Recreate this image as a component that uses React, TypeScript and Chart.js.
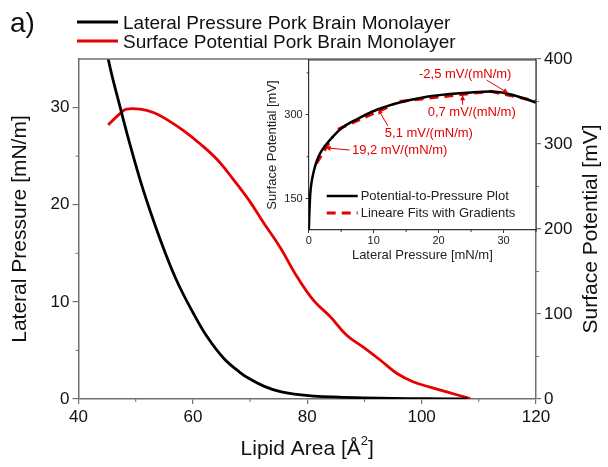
import React, { useEffect, useRef } from 'react';
import { Chart, registerables } from 'chart.js';

Chart.register(...registerables);

const FONT = "'Liberation Sans', Arial, Helvetica, sans-serif";
const RED = '#e60000';
const AXIS = '#707070';

// ---------- main chart data ----------
const pressureArea = [44.7, 45.2, 47.3, 49.0, 50.8, 52.5, 54.3, 56.0, 57.8, 60.2, 62.5, 65.3, 68.2, 70.0, 72.5, 75.3, 78.5, 81.1, 85.5, 90.0, 95.0, 101.0, 108.0];
const pressureValues = [37.5, 35.0, 30.0, 26.2, 22.5, 19.4, 16.4, 13.8, 11.4, 8.7, 6.4, 4.25, 2.75, 2.05, 1.3, 0.75, 0.45, 0.3, 0.19, 0.12, 0.07, 0.03, 0.0];

const potentialArea = [45.2, 47.3, 48.4, 50.8, 53.1, 55.4, 58.3, 61.3, 64.2, 67.0, 69.8, 72.3, 75.3, 78.2, 81.1, 84.0, 86.9, 89.8, 92.8, 95.7, 98.6, 101.5, 104.4, 108.5];
const potentialValues = [322.5, 336, 341, 341, 337, 329, 316, 300, 282, 259, 234, 208, 178, 144, 116, 97, 75, 61, 45.6, 30, 20, 14, 8.3, 0.5];

const xTicks = [40, 60, 80, 100, 120];
const xMinor = [50, 70, 90, 110];
const yTicks = [0, 10, 20, 30];
const yMinor = [5, 15, 25];
const y2Ticks = [0, 100, 200, 300, 400];
const y2Minor = [50, 150, 250, 350];

const legendLabels = ['Lateral Pressure Pork Brain Monolayer', 'Surface Potential Pork Brain Monolayer'];

// ---------- inset data ----------
const insetPressure = [0.02, 0.12, 0.25, 0.45, 0.8, 1.23, 1.8, 2.5, 3.8, 5.3, 7.4, 10.5, 14.0, 17.6, 21.7, 25.0, 28.0, 30.5, 33.0, 35.0];
const insetPotential = [95, 130, 160, 180, 200, 217, 232, 244, 262, 278, 292, 309, 322, 331, 337, 340, 341.5, 338, 330, 322];

const fit1 = [{ x: 1.2, y: 213 }, { x: 3.7, y: 261 }];
const fit2 = [{ x: 4.5, y: 274 }, { x: 13.0, y: 318 }];
const fit3 = [{ x: 14.0, y: 324 }, { x: 28.0, y: 342 }];
const fit4 = [{ x: 28.0, y: 342 }, { x: 35.0, y: 324.5 }];

const insetXTicks = [0, 10, 20, 30];
const insetXMinor = [5, 15, 25, 35];
const insetYTicks = [150, 300];
const insetYMinor = [225, 375];

// annotation: label, text centre (data), arrow start (data), arrow tip (data)
const gradientLabels = ['-2,5 mV/(mN/m)', '0,7 mV/(mN/m)', '5,1 mV/(mN/m)', '19,2 mV/(mN/m)'];
const labelPos = [[24.1, 373], [25.1, 304], [18.5, 266], [14.0, 236]];
const arrowFrom = [[27.4, 362], [23.7, 318], [12.2, 280], [6.3, 237]];
const arrowTo = [[30.7, 339], [23.7, 335], [10.7, 310], [2.6, 241]];

const insetLegend = ['Potential-to-Pressure Plot', 'Lineare Fits with Gradients'];

const pts = (xs: number[], ys: number[]) => xs.map((x, i) => ({ x, y: ys[i] }));

function minorTicks(ctx: CanvasRenderingContext2D, chart: any, axis: string, values: number[], len: number, color: string) {
  const s = chart.scales[axis];
  const a = chart.chartArea;
  ctx.save();
  ctx.strokeStyle = color;
  ctx.lineWidth = 1;
  ctx.beginPath();
  values.forEach((v) => {
    const p = s.getPixelForValue(v);
    if (s.axis === 'x') {
      ctx.moveTo(p, a.bottom);
      ctx.lineTo(p, a.bottom + len);
    } else if (s.position === 'left') {
      ctx.moveTo(a.left, p);
      ctx.lineTo(a.left - len, p);
    } else {
      ctx.moveTo(a.right, p);
      ctx.lineTo(a.right + len, p);
    }
  });
  ctx.stroke();
  ctx.restore();
}

const mainPlugin = {
  id: 'mainDecor',
  afterDraw(chart: any) {
    const ctx: CanvasRenderingContext2D = chart.ctx;
    const a = chart.chartArea;
    ctx.save();
    // top frame
    ctx.strokeStyle = AXIS;
    ctx.lineWidth = 1.5;
    ctx.beginPath();
    ctx.moveTo(a.left, a.top);
    ctx.lineTo(a.right, a.top);
    ctx.stroke();
    minorTicks(ctx, chart, 'x', xMinor, 3, AXIS);
    minorTicks(ctx, chart, 'y', yMinor, 3, AXIS);
    minorTicks(ctx, chart, 'y2', y2Minor, 3, AXIS);

    // panel label
    ctx.fillStyle = '#111';
    ctx.font = `28px ${FONT}`;
    ctx.textAlign = 'left';
    ctx.textBaseline = 'alphabetic';
    ctx.fillText('a)', 10, 32);

    // legend
    const colors = ['#000', RED];
    const ys = [22, 41];
    ctx.font = `19px ${FONT}`;
    legendLabels.forEach((t, i) => {
      ctx.strokeStyle = colors[i];
      ctx.lineWidth = 3;
      ctx.beginPath();
      ctx.moveTo(77, ys[i]);
      ctx.lineTo(118, ys[i]);
      ctx.stroke();
      ctx.fillStyle = '#111';
      ctx.fillText(t, 123, ys[i] + 6.7);
    });

    // axis titles
    ctx.font = `21px ${FONT}`;
    ctx.fillStyle = '#111';
    ctx.textAlign = 'center';
    ctx.textBaseline = 'middle';
    const cy = (a.top + a.bottom) / 2;
    ctx.save();
    ctx.translate(20, cy);
    ctx.rotate(-Math.PI / 2);
    ctx.fillText('Lateral Pressure [mN/m]', 0, 0);
    ctx.restore();
    ctx.save();
    ctx.translate(591, cy);
    ctx.rotate(-Math.PI / 2);
    ctx.fillText('Surface Potential [mV]', 0, 0);
    ctx.restore();

    // bottom title with superscript
    const main = 'Lipid Area [Å';
    const sup = '2';
    const end = ']';
    ctx.textBaseline = 'alphabetic';
    ctx.textAlign = 'left';
    ctx.font = `21px ${FONT}`;
    const w1 = ctx.measureText(main).width;
    const w3 = ctx.measureText(end).width;
    ctx.font = `13px ${FONT}`;
    const w2 = ctx.measureText(sup).width;
    const total = w1 + w2 + w3;
    const cx = (a.left + a.right) / 2;
    const x0 = cx - total / 2;
    const base = 455;
    ctx.font = `21px ${FONT}`;
    ctx.fillText(main, x0, base);
    ctx.font = `13px ${FONT}`;
    ctx.fillText(sup, x0 + w1, base - 10);
    ctx.font = `21px ${FONT}`;
    ctx.fillText(end, x0 + w1 + w2, base);
    ctx.restore();
  },
};

const insetPlugin = {
  id: 'insetDecor',
  beforeDraw(chart: any) {
    const ctx: CanvasRenderingContext2D = chart.ctx;
    const a = chart.chartArea;
    ctx.save();
    ctx.fillStyle = '#fff';
    ctx.fillRect(a.left, a.top, a.right - a.left, a.bottom - a.top);
    ctx.restore();
  },
  afterDraw(chart: any) {
    const ctx: CanvasRenderingContext2D = chart.ctx;
    const a = chart.chartArea;
    const sx = chart.scales.x;
    const sy = chart.scales.y;
    ctx.save();
    ctx.strokeStyle = '#333';
    ctx.lineWidth = 1.2;
    ctx.beginPath();
    ctx.moveTo(a.left, a.top);
    ctx.lineTo(a.right, a.top);
    ctx.lineTo(a.right, a.bottom);
    ctx.stroke();
    minorTicks(ctx, chart, 'x', insetXMinor, 2, '#333');
    minorTicks(ctx, chart, 'y', insetYMinor, 2, '#333');

    // titles
    ctx.fillStyle = '#222';
    ctx.font = `13px ${FONT}`;
    ctx.textAlign = 'center';
    ctx.textBaseline = 'middle';
    ctx.fillText('Lateral Pressure [mN/m]', (a.left + a.right) / 2, a.bottom + 25);
    ctx.save();
    ctx.translate(a.left - 36, (a.top + a.bottom) / 2);
    ctx.rotate(-Math.PI / 2);
    ctx.fillText('Surface Potential [mV]', 0, 0);
    ctx.restore();

    // legend
    ctx.textAlign = 'left';
    const ly = [a.bottom - 34, a.bottom - 17];
    ctx.strokeStyle = '#000';
    ctx.lineWidth = 2.5;
    ctx.beginPath();
    ctx.moveTo(a.left + 18, ly[0]);
    ctx.lineTo(a.left + 49, ly[0]);
    ctx.stroke();
    ctx.strokeStyle = RED;
    ctx.lineWidth = 3;
    ctx.setLineDash([9, 6]);
    ctx.beginPath();
    ctx.moveTo(a.left + 18, ly[1]);
    ctx.lineTo(a.left + 49, ly[1]);
    ctx.stroke();
    ctx.setLineDash([]);
    ctx.fillStyle = '#222';
    insetLegend.forEach((t, i) => ctx.fillText(t, a.left + 52, ly[i]));

    // gradient annotations
    ctx.fillStyle = RED;
    ctx.strokeStyle = RED;
    ctx.lineWidth = 1;
    ctx.textAlign = 'center';
    gradientLabels.forEach((t, i) => {
      ctx.fillText(t, sx.getPixelForValue(labelPos[i][0]), sy.getPixelForValue(labelPos[i][1]));
      const x1 = sx.getPixelForValue(arrowFrom[i][0]);
      const y1 = sy.getPixelForValue(arrowFrom[i][1]);
      const x2 = sx.getPixelForValue(arrowTo[i][0]);
      const y2 = sy.getPixelForValue(arrowTo[i][1]);
      ctx.beginPath();
      ctx.moveTo(x1, y1);
      ctx.lineTo(x2, y2);
      ctx.stroke();
      const ang = Math.atan2(y2 - y1, x2 - x1);
      const L = 5;
      const W = 2.5;
      ctx.beginPath();
      ctx.moveTo(x2, y2);
      ctx.lineTo(x2 - L * Math.cos(ang) + W * Math.sin(ang), y2 - L * Math.sin(ang) - W * Math.cos(ang));
      ctx.lineTo(x2 - L * Math.cos(ang) - W * Math.sin(ang), y2 - L * Math.sin(ang) + W * Math.cos(ang));
      ctx.closePath();
      ctx.fill();
    });
    ctx.restore();
  },
};

const setTicks = (values: number[]) => (scale: any) => {
  scale.ticks = values.map((v) => ({ value: v }));
};

export default function App() {
  const mainRef = useRef<HTMLCanvasElement>(null);
  const insetRef = useRef<HTMLCanvasElement>(null);

  useEffect(() => {
    document.body.style.margin = '0';
    Chart.defaults.font.family = FONT;
    const main = new Chart(mainRef.current as HTMLCanvasElement, {
      type: 'scatter',
      data: {
        datasets: [
          {
            label: legendLabels[0],
            data: pts(pressureArea, pressureValues),
            showLine: true,
            borderColor: '#000',
            borderWidth: 2.8,
            borderJoinStyle: 'round',
            pointRadius: 0,
            tension: 0.4,
            yAxisID: 'y',
          },
          {
            label: legendLabels[1],
            data: pts(potentialArea, potentialValues),
            showLine: true,
            borderColor: RED,
            borderWidth: 2.8,
            borderJoinStyle: 'round',
            pointRadius: 0,
            tension: 0.4,
            yAxisID: 'y2',
          },
        ],
      },
      options: {
        animation: false,
        responsive: false,
        devicePixelRatio: 1,
        layout: { padding: { left: 0, right: 0, top: 59, bottom: 0 } },
        plugins: { legend: { display: false }, tooltip: { enabled: false } },
        scales: {
          x: {
            type: 'linear',
            min: 40,
            max: 120,
            afterBuildTicks: setTicks(xTicks),
            afterFit: (s: any) => { s.height = 68; },
            ticks: { font: { size: 17 }, color: '#111', padding: 3, maxRotation: 0 },
            grid: { drawOnChartArea: false, drawTicks: true, tickLength: 5, color: AXIS, lineWidth: 1.2 },
            border: { color: AXIS, width: 1.5 },
          },
          y: {
            type: 'linear',
            position: 'left',
            min: 0,
            max: 35,
            afterBuildTicks: setTicks(yTicks),
            afterFit: (s: any) => { s.width = 78.5; },
            ticks: { font: { size: 17 }, color: '#111', padding: 3 },
            grid: { drawOnChartArea: false, drawTicks: true, tickLength: 6, color: AXIS, lineWidth: 1.2 },
            border: { color: AXIS, width: 1.5 },
          },
          y2: {
            type: 'linear',
            position: 'right',
            min: 0,
            max: 400,
            afterBuildTicks: setTicks(y2Ticks),
            afterFit: (s: any) => { s.width = 72; },
            ticks: { font: { size: 17 }, color: '#111', padding: 3 },
            grid: { drawOnChartArea: false, drawTicks: true, tickLength: 5, color: AXIS, lineWidth: 1.2 },
            border: { color: AXIS, width: 1.5 },
          },
        },
      } as any,
      plugins: [mainPlugin],
    });

    const fitStyle = {
      showLine: true,
      borderColor: RED,
      borderWidth: 3,
      borderDash: [9, 6],
      pointRadius: 0,
    };
    const inset = new Chart(insetRef.current as HTMLCanvasElement, {
      type: 'scatter',
      data: {
        datasets: [
          {
            label: insetLegend[0],
            data: pts(insetPressure, insetPotential),
            showLine: true,
            borderColor: '#000',
            borderWidth: 2.5,
            pointRadius: 0,
            cubicInterpolationMode: 'monotone',
          },
          { label: 'fit1', data: fit1, ...fitStyle },
          { label: 'fit2', data: fit2, ...fitStyle },
          { label: 'fit3', data: fit3, ...fitStyle },
          { label: 'fit4', data: fit4, ...fitStyle },
        ],
      },
      options: {
        animation: false,
        responsive: false,
        devicePixelRatio: 1,
        layout: { padding: { left: 268.7, right: 72, top: 60, bottom: 207 } },
        plugins: { legend: { display: false }, tooltip: { enabled: false } },
        scales: {
          x: {
            type: 'linear',
            min: 0,
            max: 35,
            afterBuildTicks: setTicks(insetXTicks),
            afterFit: (s: any) => { s.height = 30; },
            ticks: { font: { size: 11 }, color: '#222', padding: 1, maxRotation: 0 },
            grid: { drawOnChartArea: false, drawTicks: true, tickLength: 3, color: '#333' },
            border: { color: '#333', width: 1.2 },
          },
          y: {
            type: 'linear',
            min: 94,
            max: 398,
            afterBuildTicks: setTicks(insetYTicks),
            afterFit: (s: any) => { s.width = 40; },
            ticks: { font: { size: 11 }, color: '#222', padding: 3 },
            grid: { drawOnChartArea: false, drawTicks: true, tickLength: 3, color: '#333' },
            border: { color: '#333', width: 1.2 },
          },
        },
      } as any,
      plugins: [insetPlugin],
    });

    return () => {
      main.destroy();
      inset.destroy();
    };
  }, []);

  return (
    <div style={{ position: 'fixed', left: 0, top: 0, width: 608, height: 467, background: '#fff' }}>
      <canvas ref={mainRef} width={608} height={467} style={{ position: 'absolute', left: 0, top: 0 }} />
      <canvas ref={insetRef} width={608} height={467} style={{ position: 'absolute', left: 0, top: 0 }} />
    </div>
  );
}
